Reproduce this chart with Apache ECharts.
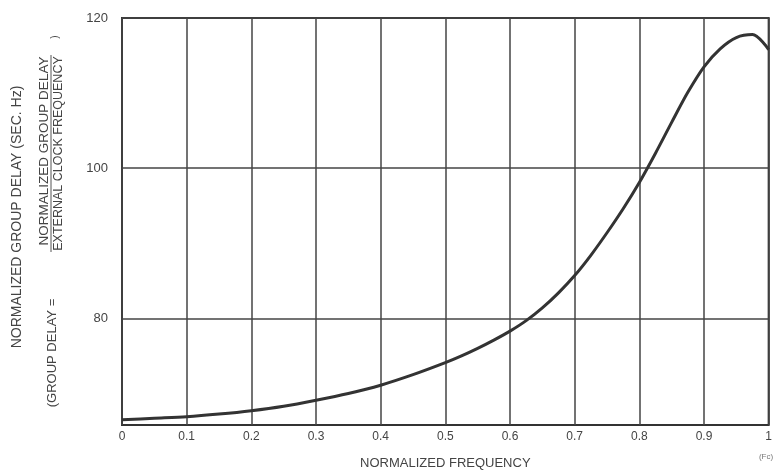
<!DOCTYPE html>
<html>
<head>
<meta charset="utf-8">
<script src="https://cdn.jsdelivr.net/npm/echarts@6/dist/echarts.min.js"></script>
<style>html,body{margin:0;padding:0;background:#fff;}#c{width:775px;height:475px;}</style>
</head>
<body>
<div id="c"></div>
<script>
var freq  = [0, 0.05, 0.1, 0.15, 0.2, 0.25, 0.3, 0.35, 0.4, 0.45, 0.5, 0.525, 0.55, 0.575, 0.6, 0.625, 0.65, 0.675, 0.7, 0.725, 0.75, 0.775, 0.8, 0.825, 0.85, 0.875, 0.9, 0.925, 0.95, 0.975, 1.0];
var delay = [66.5, 66.7, 66.9, 67.25, 67.7, 68.3, 69.1, 70.0, 71.1, 72.5, 74.1, 75.0, 76.0, 77.1, 78.3, 79.7, 81.4, 83.4, 85.7, 88.4, 91.4, 94.6, 98.1, 102.0, 106.1, 110.1, 113.5, 115.9, 117.4, 117.8, 115.8];
var yTicks = [80, 100, 120];
var xTicks = [0, 0.1, 0.2, 0.3, 0.4, 0.5, 0.6, 0.7, 0.8, 0.9, 1];

var points = freq.map(function (f, i) { return [f, delay[i]]; });
var font = "'Liberation Sans', Arial, sans-serif";
var txt = '#444';
var chart = echarts.init(document.getElementById('c'));
chart.setOption({
  backgroundColor: '#fff',
  animation: false,
  grid: { left: 122, right: 3, top: 18, bottom: 48, show: true, borderColor: '#333', borderWidth: 2, backgroundColor: 'transparent' },
  xAxis: {
    type: 'value', min: 0, max: 1, interval: 0.1,
    name: 'NORMALIZED FREQUENCY', nameLocation: 'middle', nameGap: 32,
    nameTextStyle: { fontFamily: font, fontSize: 13, color: txt },
    axisLine: { show: false },
    axisTick: { show: false },
    axisLabel: { fontFamily: font, fontSize: 12, color: txt, margin: 6,
      formatter: function (v) { return (v === 0 || v === 1) ? String(v) : v.toFixed(1); } },
    splitLine: { show: true, lineStyle: { color: '#444', width: 1.5 } }
  },
  yAxis: {
    type: 'value', min: 65.8, max: 120,
    axisLine: { show: false },
    axisTick: { show: false, customValues: yTicks },
    axisLabel: { customValues: yTicks, fontFamily: font, fontSize: 13, color: txt, margin: 14 },
    splitLine: { show: true, lineStyle: { color: '#444', width: 1.5 } }
  },
  series: [{
    type: 'line', data: points, smooth: 0.3, symbol: 'none',
    lineStyle: { color: '#333', width: 3 }
  }],
  graphic: [
    { type: 'text', x: 17, y: 217, rotation: Math.PI / 2,
      style: { text: 'NORMALIZED GROUP DELAY (SEC. Hz)', fontFamily: font, fontSize: 14, fill: txt, align: 'center', verticalAlign: 'middle' } },
    { type: 'text', x: 52.5, y: 353, rotation: Math.PI / 2,
      style: { text: '(GROUP DELAY =', fontFamily: font, fontSize: 13, fill: txt, align: 'center', verticalAlign: 'middle' } },
    { type: 'text', x: 44, y: 151, rotation: Math.PI / 2,
      style: { text: 'NORMALIZED GROUP DELAY', fontFamily: font, fontSize: 13.5, fill: txt, align: 'center', verticalAlign: 'middle' } },
    { type: 'text', x: 58.5, y: 153.5, rotation: Math.PI / 2,
      style: { text: 'EXTERNAL CLOCK FREQUENCY', fontFamily: font, fontSize: 12.5, fill: txt, align: 'center', verticalAlign: 'middle' } },
    { type: 'line', shape: { x1: 51, y1: 55, x2: 51, y2: 252 }, style: { stroke: '#555', lineWidth: 1 } },
    { type: 'text', x: 55, y: 37, rotation: Math.PI / 2,
      style: { text: ')', fontFamily: font, fontSize: 10, fill: txt, align: 'center', verticalAlign: 'middle' } },
    { type: 'text', x: 766, y: 457,
      style: { text: '(Fc)', fontFamily: font, fontSize: 8, fill: '#777', align: 'center', verticalAlign: 'middle' } }
  ]
});
</script>
</body>
</html>
